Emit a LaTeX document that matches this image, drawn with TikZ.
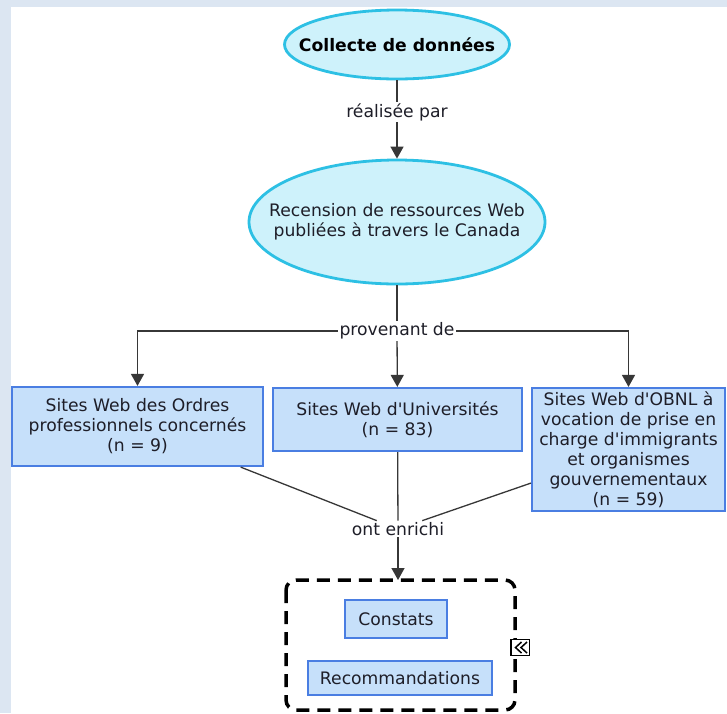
\documentclass[tikz,border=0pt]{standalone}
\usepackage{fontspec}
\setmainfont{DejaVu Sans}
\usetikzlibrary{shapes.geometric,arrows.meta}

\definecolor{pagebg}{RGB}{220,230,242}
\definecolor{ovalfill}{RGB}{206,242,251}
\definecolor{ovalline}{RGB}{45,192,228}
\definecolor{boxfill}{RGB}{198,224,250}
\definecolor{boxline}{RGB}{74,126,226}
\definecolor{txt}{RGB}{30,30,40}
\definecolor{wire}{RGB}{55,55,55}

\newcommand{\apos}{\textquotesingle}

\tikzset{
  oval/.style={ellipse, draw=ovalline, fill=ovalfill, line width=2.8pt, inner sep=0pt},
  ovaltext/.style={align=center, text=txt, inner sep=0pt},
  sitebox/.style={rectangle, draw=boxline, fill=boxfill, line width=2.2pt,
    inner sep=0pt, align=center, text=txt},
  linklabel/.style={fill=white, inner sep=1.5pt, text=txt},
  wireline/.style={draw=wire, line width=1.3pt},
  tip/.style={wireline, -{Triangle[width=13pt,length=12pt]}},
  groupframe/.style={draw=black, line width=3.5pt, dash pattern=on 13pt off 8pt,
    rounded corners=10pt},
  every node/.style={font=\fontsize{17.2}{20}\selectfont}
}

\begin{document}
\begin{tikzpicture}[x=1pt,y=-1pt]
  % page background and white canvas
  \fill[pagebg] (0,0) rectangle (727,713);
  \fill[white] (11,7) rectangle (727,713);
  \useasboundingbox (0,0) rectangle (727,713);

  % concept nodes (oval outline and its caption set separately)
  \node[oval, minimum width=225pt, minimum height=69pt] (collecte) at (397,44.5) {};
  \node[ovaltext, text=black, font=\fontsize{17.2}{20}\selectfont\bfseries]
    (collectetxt) at (collecte) {Collecte de données};
  \node[linklabel] (realisee) at (397,112) {réalisée par};
  \node[oval, minimum width=296pt, minimum height=124pt] (recension) at (397,222) {};
  \node[ovaltext] (recensiontxt) at (recension)
    {Recension de ressources Web\\publiées à travers le Canada};
  \node[linklabel] (provenant) at (397,331) {provenant de};

  \node[sitebox, minimum width=251pt, minimum height=79pt] (ordres) at (137.5,426.5)
    {Sites Web des Ordres\\professionnels concernés\\(n = 9)};
  \node[sitebox, minimum width=249pt, minimum height=63pt] (univ) at (397.5,419.5)
    {Sites Web d\apos Universités\\(n = 83)};
  \node[sitebox, minimum width=193pt, minimum height=123pt] (obnl) at (628.5,449.5)
    {Sites Web d\apos OBNL à\\vocation de prise en\\charge d\apos immigrants\\et organismes\\gouvernementaux\\(n = 59)};

  \node[linklabel] (enrichi) at (398,529) {ont enrichi};

  % connectors
  \draw[wireline] (collecte) -- (realisee);
  \draw[tip] (realisee) -- (recension);
  \draw[wireline] (recension) -- (provenant);
  \draw[tip] (provenant.west) -| (ordres.north);
  \draw[tip] (provenant) -- (univ);
  \draw[tip] (provenant.east) -| (obnl.north);
  \draw[wireline] (ordres) -- (enrichi);
  \draw[wireline] (univ) -- (enrichi);
  \draw[wireline] (obnl) -- (enrichi);

  % nested group
  \coordinate (grouptop) at (398,580);
  \draw[groupframe] (286,580) rectangle (515,710);
  \draw[tip] (enrichi) -- (grouptop);

  \node[sitebox, minimum width=102pt, minimum height=38pt] (constats) at (396,619) {Constats};
  \node[sitebox, minimum width=184pt, minimum height=34pt] (recomm) at (400,678) {Recommandations};

  % collapse handle on the group frame
  \node[draw=black, fill=white, line width=1pt, minimum width=18pt, minimum height=16pt,
        inner sep=0pt] (handle) at (520.5,647.5) {};
  \draw[line width=1.5pt, line join=miter] (521.5,642) -- (515.5,647.5) -- (521.5,653);
  \draw[line width=1.5pt, line join=miter] (527,642) -- (521,647.5) -- (527,653);
  \draw[line width=2.2pt] (handle.north west) -- (handle.south west);
\end{tikzpicture}
\end{document}
